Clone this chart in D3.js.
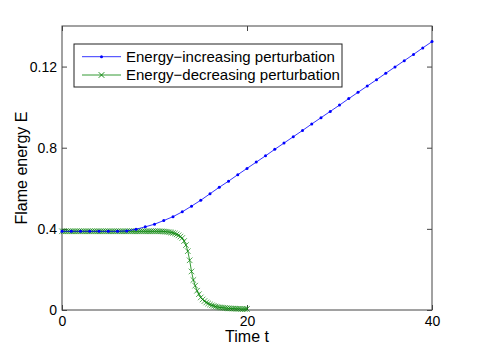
<!DOCTYPE html>
<html>
<head>
<meta charset="utf-8">
<script src="https://cdn.jsdelivr.net/npm/d3@7"></script>
<style>
  body { margin: 0; background: #fff; }
  text { font-family: "Liberation Sans", Arial, sans-serif; fill: #000; }
</style>
</head>
<body>
<div id="chart"></div>
<script>
// data
let yTicks = [0, 0.4, 0.8, 1.2];
let yTickLabels = ["0", "0.4", "0.8", "0.12"];
let xTicks = [0, 20, 40];

let blueTimes = d3.range(0, 41, 1);
let blueValues = [
    0.388, 0.388, 0.388, 0.388, 0.388, 0.388, 0.388, 0.39, 0.398, 0.41,
    0.423, 0.441, 0.46, 0.484, 0.512, 0.541, 0.573, 0.605, 0.635, 0.667,
    0.698, 0.729, 0.76, 0.792, 0.823, 0.854, 0.885, 0.917, 0.948, 0.979,
    1.01, 1.042, 1.073, 1.104, 1.135, 1.167, 1.198, 1.229, 1.26, 1.292,
    1.323
];

let greenTimes = d3.range(0, 101, 1).map(function(i) { return i * 0.2; });
let greenValues = [
    0.388, 0.388, 0.388, 0.388, 0.388, 0.388, 0.388, 0.388, 0.388, 0.388,
    0.388, 0.388, 0.388, 0.388, 0.388, 0.388, 0.388, 0.388, 0.388, 0.388,
    0.388, 0.388, 0.388, 0.388, 0.388, 0.388, 0.388, 0.388, 0.388, 0.388,
    0.388, 0.388, 0.388, 0.388, 0.388, 0.388, 0.388, 0.388, 0.388, 0.388,
    0.388, 0.388, 0.388, 0.388, 0.388, 0.388, 0.388, 0.388, 0.388, 0.388,
    0.388, 0.388, 0.388, 0.388, 0.388, 0.387, 0.386, 0.385, 0.384, 0.382,
    0.38, 0.377, 0.373, 0.368, 0.362, 0.355, 0.34, 0.32, 0.29, 0.245,
    0.19, 0.148, 0.12, 0.095, 0.078, 0.062, 0.052, 0.044, 0.037, 0.032,
    0.027, 0.023, 0.02, 0.017, 0.015, 0.013, 0.012, 0.011, 0.01, 0.009,
    0.008, 0.008, 0.007, 0.007, 0.006, 0.006, 0.006, 0.005, 0.005, 0.005,
    0.005
];

let seriesNames = ["Energy\u2212increasing perturbation", "Energy\u2212decreasing perturbation"];

let margin = { top: 26, right: 45, bottom: 39, left: 62 };
let width = 477 - margin.left - margin.right;
let height = 349 - margin.top - margin.bottom;

let svg = d3.select("#chart").append("svg")
    .attr("width", 477)
    .attr("height", 349)
    .append("g")
    .attr("transform", "translate(" + margin.left + "," + margin.top + ")");

let x = d3.scaleLinear().domain([0, 40]).range([0, width]);
let y = d3.scaleLinear().domain([0, 1.4]).range([height, 0]);

let axisColor = "#444";

function styleAxis(g) {
    g.select(".domain").remove();
    g.selectAll(".tick line").attr("stroke", axisColor);
    g.selectAll(".tick text").style("font-size", "14px");
}

// inward ticks on all four sides
svg.append("g")
    .attr("transform", "translate(0," + height + ")")
    .call(d3.axisBottom(x).tickValues(xTicks).tickSizeInner(-5).tickPadding(6).tickFormat(d3.format("d")))
    .call(styleAxis);
svg.append("g")
    .call(d3.axisTop(x).tickValues(xTicks).tickSizeInner(-5).tickFormat(""))
    .call(styleAxis);
svg.append("g")
    .call(d3.axisLeft(y).tickValues(yTicks).tickSizeInner(-5).tickPadding(5)
        .tickFormat(function(d, i) { return yTickLabels[i]; }))
    .call(styleAxis);
svg.append("g")
    .attr("transform", "translate(" + width + ",0)")
    .call(d3.axisRight(y).tickValues(yTicks).tickSizeInner(-5).tickFormat(""))
    .call(styleAxis);

svg.append("rect")
    .attr("width", width)
    .attr("height", height)
    .attr("fill", "none")
    .attr("stroke", axisColor)
    .attr("stroke-width", 1);

let line = d3.line()
    .x(function(d) { return x(d[0]); })
    .y(function(d) { return y(d[1]); });

let blue = blueTimes.map(function(t, i) { return [t, blueValues[i]]; });
let green = greenTimes.map(function(t, i) { return [t, greenValues[i]]; });

// green series
svg.append("path")
    .datum(green)
    .attr("d", line)
    .attr("fill", "none")
    .attr("stroke", "#008000")
    .attr("stroke-width", 0.8);

let cross = d3.symbol().type(d3.symbolX).size(22);
svg.selectAll(".gx")
    .data(green)
    .enter()
    .append("path")
    .attr("class", "gx")
    .attr("d", cross)
    .attr("transform", function(d) { return "translate(" + x(d[0]) + "," + y(d[1]) + ")"; })
    .attr("fill", "none")
    .attr("stroke", "#008000")
    .attr("stroke-opacity", 0.75)
    .attr("stroke-width", 0.9);

// blue series
svg.append("path")
    .datum(blue)
    .attr("d", line)
    .attr("fill", "none")
    .attr("stroke", "#0000ff")
    .attr("stroke-width", 0.8);

svg.selectAll(".bd")
    .data(blue)
    .enter()
    .append("circle")
    .attr("class", "bd")
    .attr("cx", function(d) { return x(d[0]); })
    .attr("cy", function(d) { return y(d[1]); })
    .attr("r", 1.5)
    .attr("fill", "#0000ff");

// axis titles
svg.append("text")
    .attr("x", width / 2)
    .attr("y", height + 32)
    .attr("text-anchor", "middle")
    .style("font-size", "16px")
    .text("Time t");

svg.append("text")
    .attr("transform", "translate(" + (-35) + "," + (height / 2) + ") rotate(-90)")
    .attr("text-anchor", "middle")
    .style("font-size", "16px")
    .text("Flame energy E");

// legend
let legend = svg.append("g").attr("transform", "translate(12,18)");
legend.append("rect")
    .attr("width", 268)
    .attr("height", 43)
    .attr("fill", "#fff")
    .attr("stroke", "#222")
    .attr("stroke-width", 1);

let legendRows = legend.selectAll(".row")
    .data(seriesNames)
    .enter()
    .append("g")
    .attr("class", "row")
    .attr("transform", function(d, i) { return "translate(0," + (12.7 + i * 18.3) + ")"; });

legendRows.append("line")
    .attr("x1", 8).attr("x2", 47)
    .attr("stroke", function(d, i) { return i === 0 ? "#0000ff" : "#008000"; })
    .attr("stroke-width", 0.8);

legendRows.filter(function(d, i) { return i === 0; })
    .append("circle")
    .attr("cx", 27.5).attr("r", 1.5).attr("fill", "#0000ff");

legendRows.filter(function(d, i) { return i === 1; })
    .append("path")
    .attr("d", cross)
    .attr("transform", "translate(27.5,0)")
    .attr("fill", "none")
    .attr("stroke", "#008000")
    .attr("stroke-width", 0.9);

legendRows.append("text")
    .attr("x", 52)
    .attr("dy", "0.35em")
    .style("font-size", "15px")
    .text(function(d) { return d; });
</script>
</body>
</html>
